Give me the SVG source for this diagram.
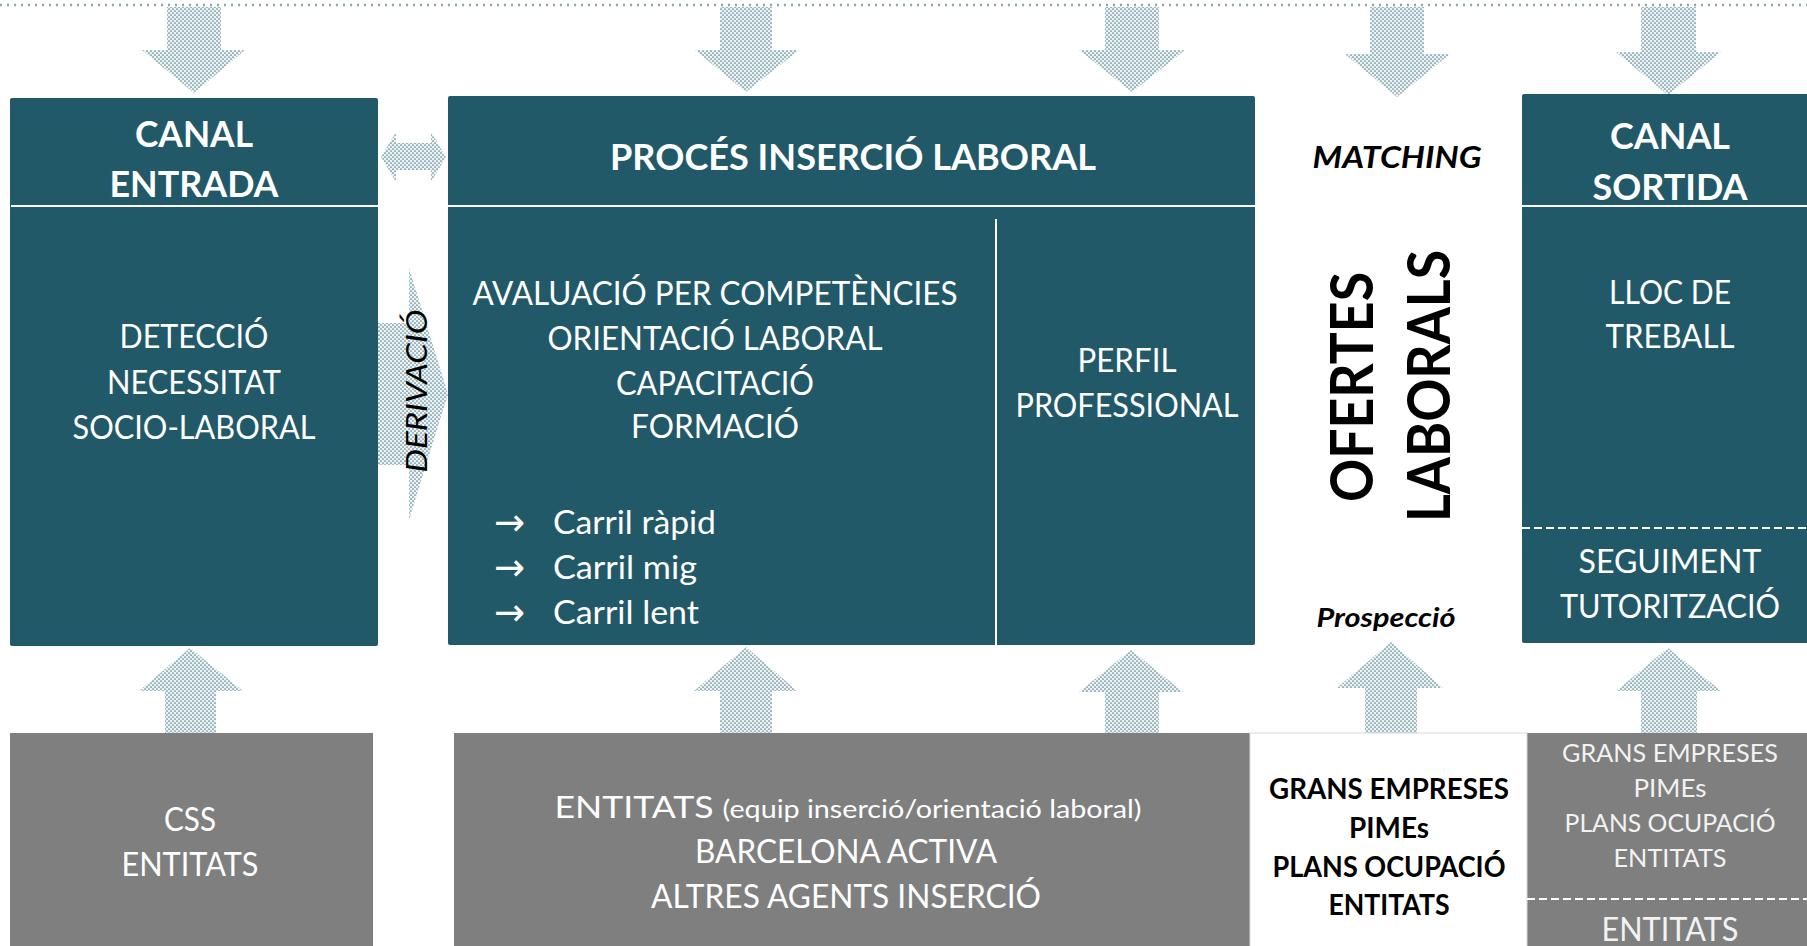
<svg xmlns="http://www.w3.org/2000/svg" width="1807" height="946" viewBox="0 0 1807 946">
<style>
.teal{fill:#225968;}
.gray{fill:#7f7f7f;}
.arrow{fill:url(#dots);}
.t{font-family:Lato,"Liberation Sans",sans-serif;text-anchor:middle;}
.w{fill:#ffffff;}
.k{fill:#000000;}
.lw{fill:#f2f2f2;}
.b{font-weight:bold;}
.i{font-style:italic;}
.sep{stroke:#ffffff;stroke-width:2;fill:none;}
.dash{stroke:#ffffff;stroke-width:2;stroke-dasharray:8 4;fill:none;}
.bul{font-family:"DejaVu Sans",sans-serif;font-size:38px;fill:#ffffff;}
</style>
<defs>
<pattern id="dots" width="4" height="4" patternUnits="userSpaceOnUse">
<rect width="4" height="4" fill="#edf3f4"/>
<circle cx="1" cy="1" r="0.85" fill="#5a8692"/>
<circle cx="3" cy="3" r="0.85" fill="#5a8692"/>
</pattern>
</defs>
<rect width="1807" height="946" fill="#ffffff"/>
<line x1="0" y1="5" x2="1807" y2="5" stroke="#8aa5ad" stroke-width="2.5" stroke-dasharray="2 5"/>

<g id="connectors">
<polygon class="arrow" points="167,7 221,7 221,50 245,50 194,93 142,50 167,50"/>
<polygon class="arrow" points="720,7 772,7 772,50 799,50 746,92 695,50 720,50"/>
<polygon class="arrow" points="1105,7 1159,7 1159,50 1185,50 1132,92 1079,50 1105,50"/>
<polygon class="arrow" points="1370,7 1424,7 1424,54 1450,54 1397,97 1345,54 1370,54"/>
<polygon class="arrow" points="1641,7 1696,7 1696,52 1721,52 1668,95 1616,52 1641,52"/>
<polygon class="arrow" points="381,157 396,132 396,143 431,143 431,132 446,157 431,182 431,170 396,170 396,182"/>
<polygon class="arrow" points="378,323 409,323 409,268 448,394 409,520 409,465 378,465"/>
<polygon class="arrow" points="165,733 216,733 216,691 243,691 190,648 139,691 165,691"/>
<polygon class="arrow" points="720,733 772,733 772,691 797,691 746,647 694,691 720,691"/>
<polygon class="arrow" points="1105,733 1159,733 1159,692 1183,692 1131,650 1079,692 1105,692"/>
<polygon class="arrow" points="1365,733 1417,733 1417,688 1443,688 1391,642 1337,688 1365,688"/>
<polygon class="arrow" points="1641,733 1697,733 1697,691 1721,691 1668,648 1616,691 1641,691"/>
</g>

<g id="canal-entrada">
<rect class="teal" x="10" y="98" width="368" height="548" rx="2"/>
<line class="sep" x1="11" y1="206" x2="378" y2="206"/>
<text class="t w b" x="194" y="147" font-size="37" textLength="118" lengthAdjust="spacingAndGlyphs">CANAL</text>
<text class="t w b" x="194" y="197" font-size="37" textLength="169" lengthAdjust="spacingAndGlyphs">ENTRADA</text>
<text class="t w" x="194" y="348" font-size="32" textLength="149" lengthAdjust="spacingAndGlyphs">DETECCIÓ</text>
<text class="t w" x="194" y="394" font-size="32" textLength="174" lengthAdjust="spacingAndGlyphs">NECESSITAT</text>
<text class="t w" x="194" y="439" font-size="32" textLength="243" lengthAdjust="spacingAndGlyphs">SOCIO-LABORAL</text>
</g>

<g id="derivacio">
<text class="t k i" transform="translate(427,391) rotate(-90)" font-size="29" textLength="163" lengthAdjust="spacingAndGlyphs">DERIVACIÓ</text>
</g>

<g id="proces">
<rect class="teal" x="448" y="96" width="807" height="549" rx="2"/>
<line class="sep" x1="448" y1="206" x2="1255" y2="206"/>
<line class="sep" x1="996" y1="219" x2="996" y2="645"/>
<text class="t w b" x="853" y="170" font-size="36" textLength="486" lengthAdjust="spacingAndGlyphs">PROCÉS INSERCIÓ LABORAL</text>
<text class="t w" x="715" y="305" font-size="32" textLength="485" lengthAdjust="spacingAndGlyphs">AVALUACIÓ PER COMPETÈNCIES</text>
<text class="t w" x="715" y="350" font-size="32" textLength="335" lengthAdjust="spacingAndGlyphs">ORIENTACIÓ LABORAL</text>
<text class="t w" x="715" y="395" font-size="32" textLength="198" lengthAdjust="spacingAndGlyphs">CAPACITACIÓ</text>
<text class="t w" x="715" y="438" font-size="32" textLength="168" lengthAdjust="spacingAndGlyphs">FORMACIÓ</text>
<text class="bul" x="494" y="535" textLength="31" lengthAdjust="spacingAndGlyphs">→</text>
<text class="bul" x="494" y="580" textLength="31" lengthAdjust="spacingAndGlyphs">→</text>
<text class="bul" x="494" y="625" textLength="31" lengthAdjust="spacingAndGlyphs">→</text>
<text class="w" x="553" y="534" font-family="Lato,'Liberation Sans',sans-serif" font-size="32" textLength="163" lengthAdjust="spacingAndGlyphs">Carril ràpid</text>
<text class="w" x="553" y="579" font-family="Lato,'Liberation Sans',sans-serif" font-size="32" textLength="144" lengthAdjust="spacingAndGlyphs">Carril mig</text>
<text class="w" x="553" y="624" font-family="Lato,'Liberation Sans',sans-serif" font-size="32" textLength="146" lengthAdjust="spacingAndGlyphs">Carril lent</text>
<text class="t w" x="1127" y="372" font-size="32" textLength="99" lengthAdjust="spacingAndGlyphs">PERFIL</text>
<text class="t w" x="1127" y="417" font-size="32" textLength="223" lengthAdjust="spacingAndGlyphs">PROFESSIONAL</text>
</g>

<g id="matching">
<text class="t k b i" x="1397" y="168" font-size="31" textLength="169" lengthAdjust="spacingAndGlyphs">MATCHING</text>
<text class="t k b" transform="translate(1373,387) rotate(-90)" font-size="60" textLength="230" lengthAdjust="spacingAndGlyphs">OFERTES</text>
<text class="t k b" transform="translate(1450,386) rotate(-90)" font-size="60" textLength="272" lengthAdjust="spacingAndGlyphs">LABORALS</text>
<text class="t k b i" x="1386" y="627" font-size="26" textLength="139" lengthAdjust="spacingAndGlyphs">Prospecció</text>
</g>

<g id="canal-sortida">
<rect class="teal" x="1522" y="94" width="290" height="549" rx="2"/>
<line class="sep" x1="1522" y1="206" x2="1807" y2="206"/>
<line class="dash" x1="1522" y1="528" x2="1807" y2="528"/>
<text class="t w b" x="1670" y="149" font-size="37" textLength="120" lengthAdjust="spacingAndGlyphs">CANAL</text>
<text class="t w b" x="1670" y="200" font-size="37" textLength="155" lengthAdjust="spacingAndGlyphs">SORTIDA</text>
<text class="t w" x="1670" y="304" font-size="32" textLength="122" lengthAdjust="spacingAndGlyphs">LLOC DE</text>
<text class="t w" x="1670" y="348" font-size="32" textLength="129" lengthAdjust="spacingAndGlyphs">TREBALL</text>
<text class="t w" x="1670" y="573" font-size="32" textLength="183" lengthAdjust="spacingAndGlyphs">SEGUIMENT</text>
<text class="t w" x="1670" y="618" font-size="32" textLength="220" lengthAdjust="spacingAndGlyphs">TUTORITZACIÓ</text>
</g>

<g id="css-entitats">
<rect class="gray" x="10" y="733" width="363" height="213"/>
<text class="t w" x="190" y="831" font-size="32" textLength="52" lengthAdjust="spacingAndGlyphs">CSS</text>
<text class="t w" x="190" y="876" font-size="32" textLength="137" lengthAdjust="spacingAndGlyphs">ENTITATS</text>
</g>

<g id="entitats-agents">
<rect class="gray" x="454" y="733" width="1353" height="213"/>
<text class="t w" x="848" y="818" font-size="31" textLength="587" lengthAdjust="spacingAndGlyphs">ENTITATS <tspan font-size="25">(equip inserció/orientació laboral)</tspan></text>
<text class="t w" x="846" y="863" font-size="32" textLength="302" lengthAdjust="spacingAndGlyphs">BARCELONA ACTIVA</text>
<text class="t w" x="846" y="908" font-size="32" textLength="390" lengthAdjust="spacingAndGlyphs">ALTRES AGENTS INSERCIÓ</text>
</g>

<g id="empreses">
<rect x="1250" y="733" width="277" height="214" fill="#ffffff" stroke="#d9d9d9" stroke-width="1"/>
<text class="t k b" x="1389" y="799" font-size="28" textLength="240" lengthAdjust="spacingAndGlyphs">GRANS EMPRESES</text>
<text class="t k b" x="1389" y="838" font-size="28" textLength="80" lengthAdjust="spacingAndGlyphs">PIMEs</text>
<text class="t k b" x="1389" y="877" font-size="28" textLength="233" lengthAdjust="spacingAndGlyphs">PLANS OCUPACIÓ</text>
<text class="t k b" x="1389" y="915" font-size="28" textLength="121" lengthAdjust="spacingAndGlyphs">ENTITATS</text>
</g>

<g id="sortida-agents">
<line class="dash" x1="1527" y1="899" x2="1807" y2="899"/>
<text class="t lw" x="1670" y="762" font-size="25" textLength="216" lengthAdjust="spacingAndGlyphs">GRANS EMPRESES</text>
<text class="t lw" x="1670" y="797" font-size="25" textLength="73" lengthAdjust="spacingAndGlyphs">PIMEs</text>
<text class="t lw" x="1670" y="832" font-size="25" textLength="211" lengthAdjust="spacingAndGlyphs">PLANS OCUPACIÓ</text>
<text class="t lw" x="1670" y="867" font-size="25" textLength="113" lengthAdjust="spacingAndGlyphs">ENTITATS</text>
<text class="t lw" x="1670" y="941" font-size="32" textLength="137" lengthAdjust="spacingAndGlyphs">ENTITATS</text>
</g>
</svg>
